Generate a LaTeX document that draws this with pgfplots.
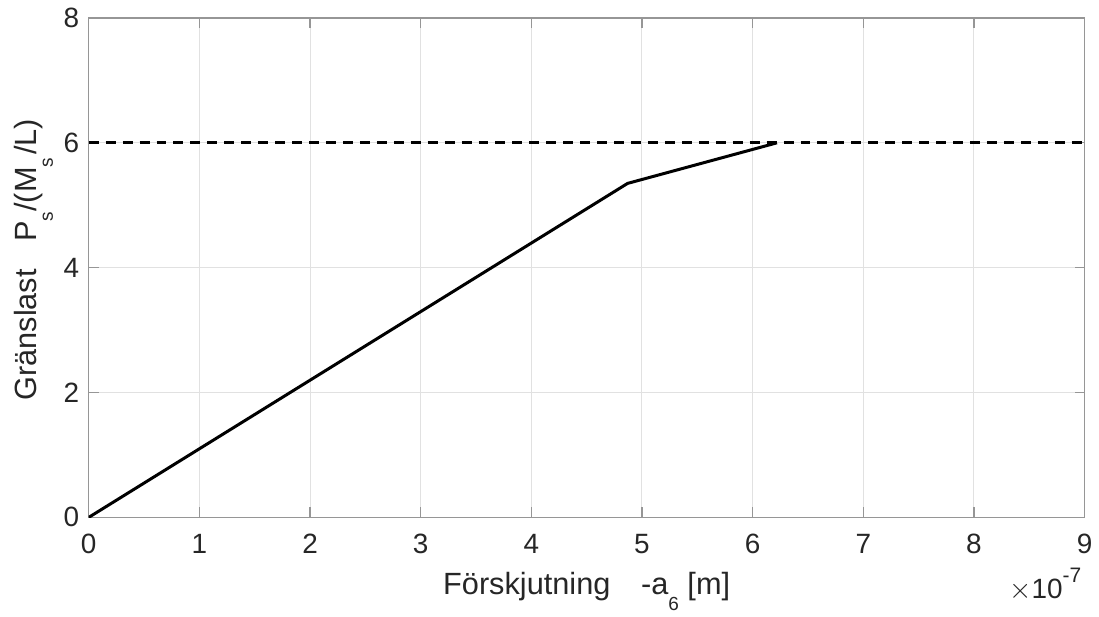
\documentclass[border=0pt]{standalone}
\usepackage{fontspec}
\setmainfont{Liberation Sans}
\usepackage{pgfplots}
\pgfplotsset{compat=1.18}
\definecolor{axgray}{RGB}{150,150,150}
\definecolor{txtgray}{RGB}{38,38,38}
\definecolor{gridgray}{RGB}{225,225,225}
% MATLAB-style subscript: small and set well below the baseline
\newcommand\sub[1]{\raisebox{-8pt}{\fontsize{9.5}{11}\selectfont #1}}
\begin{document}
\begin{tikzpicture}
\begin{axis}[
  scale only axis,
  width=499.5pt, height=250.5pt,
  xmin=0, xmax=9, ymin=0, ymax=8,
  xtick={0,1,...,9}, ytick={0,2,4,6,8},
  tick align=inside, tick pos=both,
  major tick length=5pt,
  axis line style={axgray, line width=0.6pt},
  every tick/.style={axgray, line width=0.6pt},
  grid=major,
  major grid style={gridgray, line width=0.5pt},
  /pgf/number format/assume math mode=true,
  tick label style={font=\fontsize{14}{16}\selectfont, text=txtgray},
  xticklabel style={yshift=-5pt},
  yticklabel style={xshift=-1.3pt},
  label style={font=\fontsize{15.4}{18}\selectfont, text=txtgray},
  xlabel={Förskjutning\hspace{1em}-a\sub{6} [m]},
  ylabel={Gränslast\hspace{0.9em}P\sub{s}/(M\sub{s}\hspace{0.1em}/L)},
  xlabel style={at={(axis description cs:0.5,0)}, anchor=base, yshift=-38.5pt},
  ylabel style={at={(axis description cs:0,0.5)}, anchor=base, yshift=26pt, xshift=4pt},
]
\addplot[black, line width=1.5pt] coordinates {
  (0,0) (4.87,5.35) (6.22,6.0)
};
\addplot[black, line width=1.5pt, dash pattern=on 5pt off 3.5pt] coordinates {
  (0,6) (9,6)
};
\end{axis}
\node[anchor=base east, inner sep=0pt, text=txtgray, font=\fontsize{14}{16}\selectfont] at (498pt,-40.5pt) {$\times$10\raisebox{0.55em}{\fontsize{10.5}{12}\selectfont -7}};
\path (-44.5pt,-47.5pt) rectangle (505pt,259.5pt);
\end{tikzpicture}
\end{document}
